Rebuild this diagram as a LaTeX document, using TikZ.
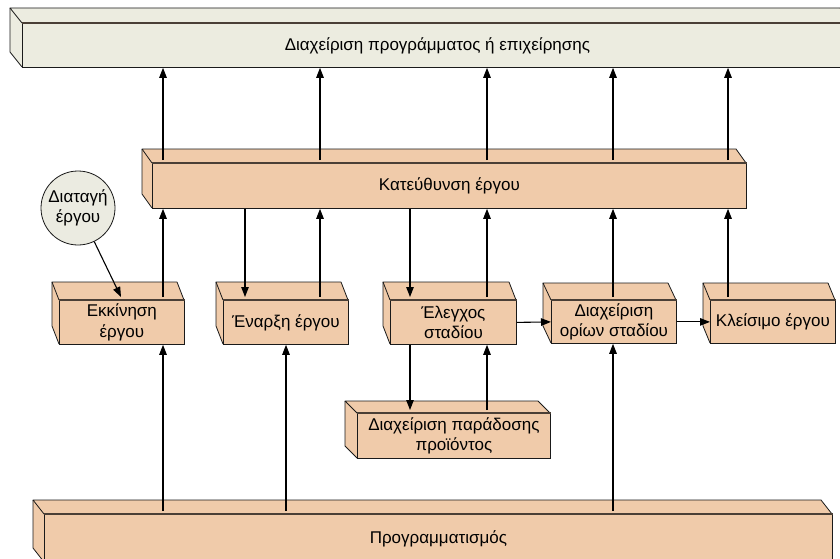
\documentclass[tikz,border=0pt]{standalone}
\usepackage{fontspec}
\setmainfont{Liberation Sans}
\usetikzlibrary{arrows.meta,calc}

\definecolor{peach}{HTML}{F0CBAA}
\definecolor{paleband}{HTML}{ECECE0}
\definecolor{palecircle}{HTML}{EBEBE1}
\definecolor{edgeline}{HTML}{1A1A1A}
\definecolor{rimline}{HTML}{4A3F36}

\tikzset{
  facefront/.style={draw=edgeline, line width=0.8pt, inner sep=0pt, align=center,
    font=\fontsize{17}{20.5}\selectfont},
  faceedge/.style={draw=edgeline, line width=0.8pt, line join=round},
  rim/.style={draw=rimline, line width=1.5pt},
  flow/.style={draw=black, line width=1.1pt, -{Triangle[length=10pt,width=7.5pt]}},
  order/.style={circle, draw=edgeline, line width=0.8pt, fill=palecircle, minimum size=74pt,
    inner sep=0pt, align=center, font=\fontsize{17}{20.5}\selectfont},
}

% 3D block: name, back-left x, top y, front-right x, bottom y, depth x, depth y, fill, text
\newcommand\prismblock[9]{%
  \fill[#8] (#2,#3) -- ({#4-#6},#3) -- (#4,{#3+#7}) -- (#4,#5) -- ({#2+#6},#5)
    -- (#2,{#5-#7}) -- cycle;
  \node[facefront, fill=#8, anchor=north west,
    minimum width={(#4-#2-#6)*1pt}, minimum height={(#5-#3-#7)*1pt}]
    (#1) at ({#2+#6},{#3+#7}) {#9};
  \draw[faceedge] ({#2+#6},{#3+#7}) -- (#2,#3) -- ({#4-#6},#3) -- (#4,{#3+#7});
  \draw[faceedge] (#2,#3) -- (#2,{#5-#7}) -- ({#2+#6},#5);
  \draw[rim] (#1.north west) -- (#1.north east);
}

\begin{document}
\begin{tikzpicture}[x=1pt, y=-1pt]
  \useasboundingbox (0,0) rectangle (840,559);
  \fill[white] (0,0) rectangle (840,559);

  % blocks
  \prismblock{top}{10}{8}{852}{67}{12}{15}{paleband}{Διαχείριση προγράμματος ή επιχείρησης}
  \prismblock{kat}{142}{149}{746}{208}{10}{14}{peach}{Κατεύθυνση έργου}
  \prismblock{ekk}{52}{282}{184}{344}{7}{18}{peach}{Εκκίνηση\\έργου}
  \prismblock{ena}{216}{282}{348}{344}{7}{18}{peach}{Έναρξη έργου}
  \prismblock{ele}{383}{282}{516}{344}{7}{18}{peach}{Έλεγχος\\σταδίου}
  \prismblock{ori}{543}{283}{676}{343}{8}{17}{peach}{Διαχείριση\\ορίων σταδίου}
  \prismblock{kle}{703}{283}{835}{343}{7}{17}{peach}{Κλείσιμο έργου}
  \prismblock{par}{345}{401}{550}{458}{12}{12}{peach}{Διαχείριση παράδοσης\\προϊόντος}
  \prismblock{prog}{33}{500}{832}{562}{11}{14}{peach}{Προγραμματισμός}

  \node[order] (dia) at (78,208) {Διαταγή\\έργου};

  % connector columns
  \coordinate (c0) at (121,0);
  \coordinate (c1) at (163,0);
  \coordinate (c2) at (245,0);
  \coordinate (c3) at (286,0);
  \coordinate (c4) at (320,0);
  \coordinate (c5) at (410,0);
  \coordinate (c6) at (487,0);
  \coordinate (c7) at (613,0);
  \coordinate (c8) at (728,0);

  % project direction up to programme management
  \foreach \c in {c1,c4,c6,c7,c8}
    \draw[flow] ($(kat.north -| \c)+(0,-3)$) -- (top.south -| \c);

  % stages reporting up to project direction
  \draw[flow] ($(ekk.north -| c1)+(0,-3)$) -- (kat.south -| c1);
  \draw[flow] ($(ena.north -| c4)+(0,-3)$) -- (kat.south -| c4);
  \draw[flow] ($(ele.north -| c6)+(0,-3)$) -- (kat.south -| c6);
  \draw[flow] ($(ori.north -| c7)+(0,-3)$) -- (kat.south -| c7);
  \draw[flow] ($(kle.north -| c8)+(0,-3)$) -- (kat.south -| c8);

  % project direction down to stages
  \draw[flow] (kat.south -| c2) -- ($(ena.north -| c2)+(0,-3)$);
  \draw[flow] (kat.south -| c5) -- ($(ele.north -| c5)+(0,-3)$);

  % mandate
  \draw[flow] (dia) -- ($(ekk.north -| c0)+(0,-3)$);

  % stage sequence
  \draw[flow] (ele.east) -- (ori.west);
  \draw[flow] (ori.east) -- (kle.west);

  % stage control and product delivery
  \draw[flow] (ele.south -| c5) -- ($(par.north -| c5)+(0,-3)$);
  \draw[flow] ($(par.north -| c6)+(0,-3)$) -- (ele.south -| c6);

  % planning feeds
  \draw[flow] ($(prog.north -| c1)+(0,-3)$) -- (ekk.south -| c1);
  \draw[flow] ($(prog.north -| c3)+(0,-3)$) -- (ena.south -| c3);
  \draw[flow] ($(prog.north -| c7)+(0,-3)$) -- (ori.south -| c7);
\end{tikzpicture}
\end{document}
